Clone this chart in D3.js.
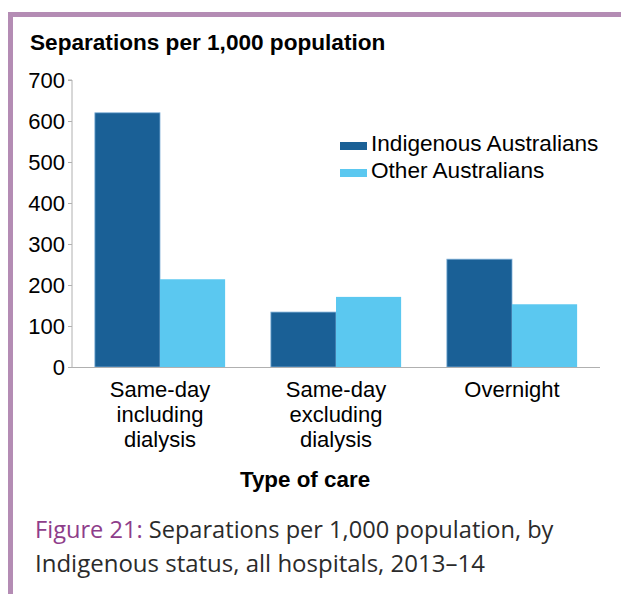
<!DOCTYPE html>
<html>
<head>
<meta charset="utf-8">
<script src="https://cdn.jsdelivr.net/npm/d3@7"></script>
<style>
  body { margin: 0; background: #fff; }
  svg { display: block; }
</style>
</head>
<body>
<div id="chart"></div>
<script>
// chart data
var categories = [ ["Same-day", "including", "dialysis"], ["Same-day", "excluding", "dialysis"], ["Overnight"] ];
var seriesNames = [ "Indigenous Australians", "Other Australians" ];
var indigenous = [ 620, 134, 263 ];
var other = [ 214, 171, 153 ];
var yTicks = [ 0, 100, 200, 300, 400, 500, 600, 700 ];
var colors = [ "#1a6096", "#5bc8f0" ];

var width = 621, height = 594;
var svg = d3.select( "#chart" ).append( "svg" )
  .attr( "width", width ).attr( "height", height );

// purple frame
svg.append( "rect" ).attr( "x", 8 ).attr( "y", 12 ).attr( "width", 620 ).attr( "height", 5 ).attr( "fill", "#b48cb4" );
svg.append( "rect" ).attr( "x", 8 ).attr( "y", 12 ).attr( "width", 5 ).attr( "height", 600 ).attr( "fill", "#b48cb4" );

var font = "Liberation Sans, Arial, sans-serif";

svg.append( "text" ).attr( "x", 30 ).attr( "y", 50 )
  .attr( "font-family", font ).attr( "font-size", 22.6 ).attr( "font-weight", "bold" )
  .text( "Separations per 1,000 population" );

var plotLeft = 72, plotRight = 600, plotTop = 80, plotBottom = 367;

var x0 = d3.scaleBand().domain( d3.range( categories.length ) ).range( [ plotLeft, plotRight ] ).paddingInner( 0.26 ).paddingOuter( 0.13 );
var x1 = d3.scaleBand().domain( [ 0, 1 ] ).range( [ 0, x0.bandwidth() ] );
var y = d3.scaleLinear().domain( [ 0, 700 ] ).range( [ plotBottom, plotTop ] );

// y axis
var yAxis = svg.append( "g" ).attr( "transform", "translate(" + plotLeft + ",0)" )
  .call( d3.axisLeft( y ).tickValues( yTicks ).tickSize( 4 ).tickPadding( 3 ) );
yAxis.select( ".domain" ).attr( "stroke", "#b0b0b0" ).attr( "d", "M-4," + plotTop + "H0V" + plotBottom );
yAxis.selectAll( ".tick line" ).attr( "stroke", "#b0b0b0" );
yAxis.selectAll( ".tick text" ).attr( "font-family", font ).attr( "font-size", 22 ).attr( "fill", "#000" ).attr( "dy", "0.36em" );

// bars
var series = [ indigenous, other ];
var groups = svg.append( "g" ).selectAll( "g" ).data( categories ).join( "g" )
  .attr( "transform", function( d, i ) { return "translate(" + x0( i ) + ",0)"; } );
groups.selectAll( "rect" )
  .data( function( d, i ) { return series.map( function( s, k ) { return { k: k, v: s[ i ] }; } ); } )
  .join( "rect" )
  .attr( "x", function( d ) { return x1( d.k ); } )
  .attr( "width", x1.bandwidth() )
  .attr( "y", function( d ) { return y( d.v ); } )
  .attr( "height", function( d ) { return plotBottom - y( d.v ); } )
  .attr( "fill", function( d ) { return colors[ d.k ]; } )
  .attr( "stroke", function( d ) { return d.k === 0 ? "#7fb0d8" : "none"; } )
  .attr( "stroke-width", 0.8 );

// x axis line
svg.append( "line" ).attr( "x1", plotLeft ).attr( "x2", plotRight ).attr( "y1", plotBottom + 0.5 ).attr( "y2", plotBottom + 0.5 )
  .attr( "stroke", "#b0b0b0" );

// category labels
var labels = svg.append( "g" ).selectAll( "text" ).data( categories ).join( "text" )
  .attr( "font-family", font ).attr( "font-size", 22 ).attr( "text-anchor", "middle" )
  .attr( "y", 397 );
labels.selectAll( "tspan" ).data( function( d ) { return d; } ).join( "tspan" )
  .attr( "x", function() { var i = categories.indexOf( d3.select( this.parentNode ).datum() ); return x0( i ) + x0.bandwidth() / 2; } )
  .attr( "dy", function( d, j ) { return j === 0 ? 0 : 25; } )
  .text( function( d ) { return d; } );

svg.append( "text" ).attr( "x", 305 ).attr( "y", 487 ).attr( "text-anchor", "middle" )
  .attr( "font-family", font ).attr( "font-size", 22.4 ).attr( "font-weight", "bold" )
  .text( "Type of care" );

// legend
var legend = svg.append( "g" ).selectAll( "g" ).data( seriesNames ).join( "g" )
  .attr( "transform", function( d, i ) { return "translate(340," + ( 143 + i * 27 ) + ")"; } );
legend.append( "rect" ).attr( "x", 0 ).attr( "y", -1 ).attr( "width", 27 ).attr( "height", 8 )
  .attr( "fill", function( d, i ) { return colors[ i ]; } );
legend.append( "text" ).attr( "x", 31 ).attr( "y", 0 ).attr( "dy", "0.35em" )
  .attr( "font-family", font ).attr( "font-size", 22.6 )
  .text( function( d ) { return d; } );

// caption
var cap = svg.append( "text" ).attr( "x", 35 ).attr( "y", 538 )
  .attr( "font-family", "Open Sans, Noto Sans, sans-serif" ).attr( "font-size", 23.6 ).attr( "fill", "#2b2b2b" );
cap.append( "tspan" ).attr( "fill", "#8e3d8a" ).text( "Figure 21: " );
cap.append( "tspan" ).text( "Separations per 1,000 population, by" );
svg.append( "text" ).attr( "x", 35 ).attr( "y", 572 )
  .attr( "font-family", "Open Sans, Noto Sans, sans-serif" ).attr( "font-size", 24 ).attr( "fill", "#2b2b2b" )
  .text( "Indigenous status, all hospitals, 2013–14" );
</script>
</body>
</html>
